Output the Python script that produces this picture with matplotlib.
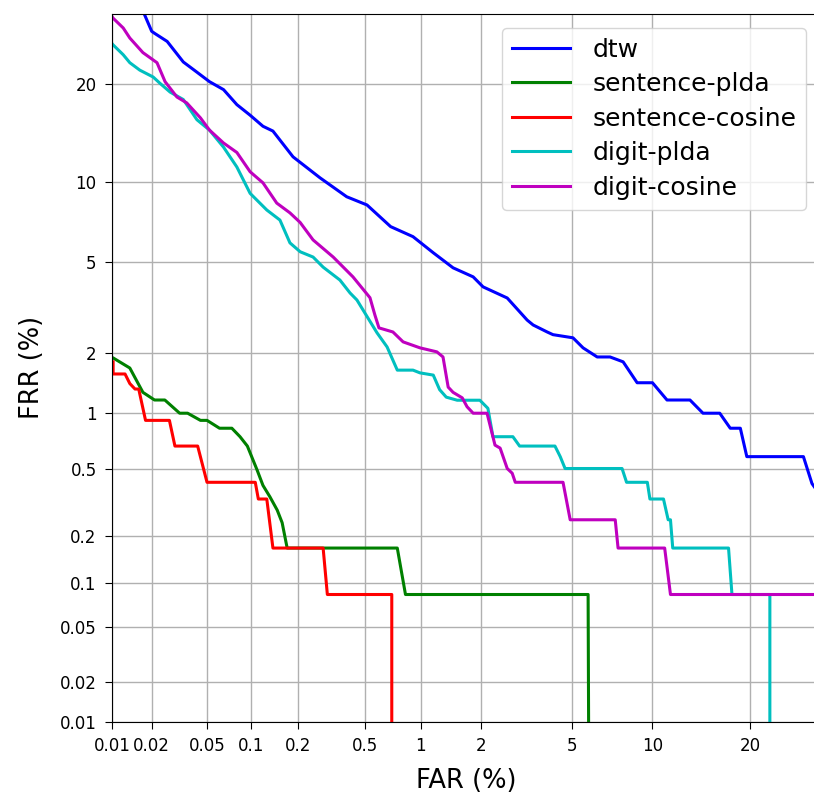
import numpy as np
import matplotlib.pyplot as plt
from statistics import NormalDist

# DET curves, values in percent (FAR, FRR)
dtw_far = [0.016, 0.020, 0.021, 0.026, 0.034, 0.042, 0.052, 0.065, 0.080, 0.098, 0.119, 0.138,
           0.185, 0.271, 0.39, 0.51, 0.69, 0.91, 1.16, 1.46, 1.83, 2.04, 2.64, 3.24, 3.44, 3.95,
           4.18, 5.05, 5.54, 6.29, 7.04, 7.87, 8.84, 10.0, 11.2, 13.3, 14.6, 16.4, 17.6, 18.8,
           19.6, 27.4, 28.7, 30.0]
dtw_frr = [32.0, 27.3, 27.0, 25.8, 22.9, 21.6, 20.3, 19.3, 17.5, 16.3, 15.1, 14.6,
           12.1, 10.3, 8.85, 8.27, 6.88, 6.3, 5.45, 4.74, 4.35, 3.95, 3.54, 2.83, 2.69, 2.50,
           2.43, 2.35, 2.11, 1.91, 1.91, 1.81, 1.43, 1.43, 1.17, 1.17, 1.0, 1.0, 0.833, 0.833,
           0.583, 0.583, 0.41, 0.35]

splda_far = [0.009, 0.0102, 0.0137, 0.0172, 0.021, 0.025, 0.032, 0.0365, 0.045, 0.05, 0.061,
             0.074, 0.084, 0.094, 0.109, 0.119, 0.132, 0.147, 0.158, 0.17, 0.75, 0.83, 5.8, 5.85]
splda_frr = [1.95, 1.89, 1.69, 1.28, 1.17, 1.17, 1.0, 1.0, 0.917, 0.917, 0.833,
             0.833, 0.75, 0.667, 0.49, 0.40, 0.343, 0.286, 0.24, 0.167, 0.167, 0.0833, 0.0833, 0.001]

scos_far = [0.0102, 0.0102, 0.0126, 0.0137, 0.015, 0.016, 0.018, 0.027, 0.0296, 0.043, 0.050,
            0.106, 0.111, 0.126, 0.138, 0.283, 0.30, 0.70, 0.70]
scos_frr = [1.81, 1.58, 1.58, 1.417, 1.33, 1.33, 0.917, 0.917, 0.667, 0.667, 0.417,
            0.417, 0.333, 0.333, 0.167, 0.167, 0.0833, 0.0833, 0.001]

dplda_far = [0.0095, 0.0102, 0.0122, 0.0137, 0.0163, 0.0205, 0.023, 0.0273, 0.034, 0.0425, 0.052,
             0.065, 0.080, 0.098, 0.126, 0.153, 0.177, 0.205, 0.246, 0.283, 0.356, 0.408, 0.447,
             0.58, 0.66, 0.75, 0.91, 0.99, 1.16, 1.25, 1.35, 1.53, 1.97, 2.15, 2.27, 2.8, 3.0,
             4.26, 4.48, 4.69, 7.8, 8.1, 9.6, 9.8, 10.9, 11.3, 11.5, 11.7, 17.4, 17.8, 22.6, 22.6]
dplda_frr = [26.0, 25.3, 23.9, 22.8, 21.8, 20.9, 20.1, 19.0, 18.1, 15.8, 14.7,
             13.0, 11.2, 9.1, 7.93, 7.28, 5.96, 5.5, 5.24, 4.77, 4.22, 3.72, 3.47,
             2.48, 2.13, 1.65, 1.65, 1.6, 1.56, 1.32, 1.21, 1.167, 1.167, 1.06, 0.75, 0.75, 0.667,
             0.667, 0.583, 0.5, 0.5, 0.417, 0.417, 0.333, 0.333, 0.25, 0.25, 0.167, 0.167, 0.0833, 0.0833, 0.001]

dcos_far = [0.009, 0.0102, 0.0122, 0.0137, 0.0172, 0.0219, 0.0251, 0.0306, 0.036, 0.045, 0.052,
            0.065, 0.080, 0.098, 0.119, 0.146, 0.177, 0.205, 0.246, 0.325, 0.424, 0.53, 0.565,
            0.595, 0.71, 0.806, 0.99, 1.21, 1.30, 1.38, 1.46, 1.62, 1.71, 1.83, 2.13, 2.32, 2.45,
            2.64, 2.78, 2.87, 4.6, 4.92, 7.36, 7.54, 11.0, 11.5, 35.0]
dcos_frr = [31.0, 29.3, 27.8, 26.3, 24.2, 22.8, 20.3, 18.4, 17.7, 16.0, 14.7,
            13.4, 12.5, 10.8, 9.9, 8.4, 7.74, 7.13, 6.12, 5.24, 4.35, 3.55, 2.98,
            2.61, 2.5, 2.25, 2.11, 2.02, 1.91, 1.36, 1.28, 1.20, 1.08, 1.0, 1.0, 0.675, 0.65,
            0.5, 0.47, 0.417, 0.417, 0.25, 0.25, 0.167, 0.167, 0.0833, 0.0833]

labels = ['dtw', 'sentence-plda', 'sentence-cosine', 'digit-plda', 'digit-cosine']
colors = ['b', 'g', 'r', 'c', 'm']
ticks = [0.01, 0.02, 0.05, 0.1, 0.2, 0.5, 1, 2, 5, 10, 20]
tick_labels = ['0.01', '0.02', '0.05', '0.1', '0.2', '0.5', '1', '2', '5', '10', '20']
lims = [0.01, 30.0]


def probit(pct):
    nd = NormalDist()
    return np.array([nd.inv_cdf(p / 100.0) for p in pct])


fig = plt.figure(figsize=(8.14, 7.96), dpi=100)
# axes runs slightly past the right edge of the figure, as in the original crop
ax = fig.add_axes([0.1376, 0.093, 0.8702, 0.8898])

curves = [(dtw_far, dtw_frr), (splda_far, splda_frr), (scos_far, scos_frr),
          (dplda_far, dplda_frr), (dcos_far, dcos_frr)]
for (far, frr), lab, c in zip(curves, labels, colors):
    ax.plot(probit(far), probit(frr), color=c, lw=2.2, label=lab)

ax.set_xticks(probit(ticks))
ax.set_xticklabels(tick_labels)
ax.set_yticks(probit(ticks))
ax.set_yticklabels(tick_labels)
ax.tick_params(labelsize=12, length=5, pad=6)
ax.set_xlim(probit(lims))
ax.set_ylim(probit(lims))
ax.grid(True, color='#b0b0b0', lw=1)
ax.set_xlabel('FAR (%)', fontsize=18.5, labelpad=9)
ax.set_ylabel('FRR (%)', fontsize=18.5, labelpad=11)
ax.legend(loc='upper right', fontsize=18, labelspacing=0.42, handlelength=2.3,
          handletextpad=0.9, borderaxespad=0.56)

plt.savefig('out.png', dpi=100)
